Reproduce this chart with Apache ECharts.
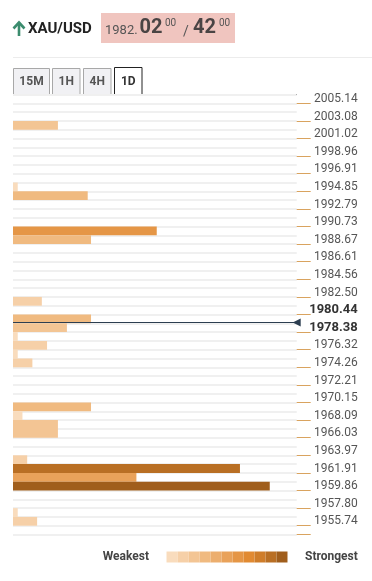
<!DOCTYPE html>
<html><head><meta charset="utf-8">
<script src="https://cdn.jsdelivr.net/npm/echarts@6/dist/echarts.min.js"></script>
<style>html,body{margin:0;padding:0;background:#fff;}#c{width:372px;height:581px;}</style>
</head><body><div id="c"></div>
<script>
// ---- data ----
const tickLabels = ['2005.14','2003.08','2001.02','1998.96','1996.91','1994.85','1992.79','1990.73','1988.67','1986.61','1984.56','1982.50','1980.44','1978.38','1976.32','1974.26','1972.21','1970.15','1968.09','1966.03','1963.97','1961.91','1959.86','1957.80','1955.74'];
const boldLabels = ['1980.44','1978.38'];
const rowCount = 50;
const barRows     = [3, 10, 11, 15, 16, 23, 25, 26, 27, 28, 29, 30, 35, 36, 37, 38, 41, 42, 43, 44, 47, 48];
const barValues   = [9.5, 1, 15.8, 30.4, 16.5, 6.1, 16.5, 11.4, 1, 7.2, 1, 4.1, 16.5, 2, 9.5, 9.5, 3, 48, 26.1, 54.3, 1, 5.1];
const barStrength = [3, 1, 4, 7, 4, 2, 4, 3, 1, 2, 1, 2, 4, 1, 3, 3, 2, 10, 6, 11, 1, 2];
const strengthColors = ['#f9dcbd','#f6d0a8','#f3c594','#f0ba80','#ecae6e','#e9a25a','#e59646','#e18a32','#cf7d2a','#b96f24','#a05e1c'];
const priceTop = 2005.655, priceBottom = 1954.195;
const priceLine = 1979.00;
const symbolName = 'XAU/USD';
const quote = {base:'1982.', bid:'02', bidSup:'00', ask:'42', askSup:'00'};
const tabs = ['15M','1H','4H','1D'];
const legendText = ['Strongest','Weakest'];

const rows = Array.from({length: rowCount}, (_, i) => String(i));
const barData = barRows.map((r, i) => [barValues[i], r, barStrength[i]]);

const chart = echarts.init(document.getElementById('c'), null, {renderer: 'canvas'});
const tabX = [[13.5,36],[52.5,27.5],[83.5,27.5],[114.5,27.5]];
const graphic = [
  {type:'polyline', shape:{points:[[19,36],[19,22.5]]}, style:{stroke:'#3c8c6e', lineWidth:2.6, fill:null}},
  {type:'polyline', shape:{points:[[13.5,28.5],[19,22.5],[24.5,28.5]]}, style:{stroke:'#3c8c6e', lineWidth:2.6, fill:null, lineJoin:'miter'}},
  {type:'text', style:{x:28, y:29, text:symbolName, font:'bold 15px Roboto', fill:'#222', verticalAlign:'middle'}},
  {type:'rect', shape:{x:101, y:13, width:134, height:30}, style:{fill:'#f0c5bf'}},
  {type:'text', style:{x:105, y:30.5, text:quote.base, font:'13px Roboto', fill:'#555', verticalAlign:'middle'}},
  {type:'text', style:{x:139.5, y:28, text:quote.bid, font:'bold 20px Roboto', fill:'#4a4444', verticalAlign:'middle'}},
  {type:'text', style:{x:165, y:23.5, text:quote.bidSup, font:'10px Roboto', fill:'#555', verticalAlign:'middle'}},
  {type:'text', style:{x:183, y:32, text:'/', font:'14px Roboto', fill:'#555', verticalAlign:'middle'}},
  {type:'text', style:{x:193, y:28, text:quote.ask, font:'bold 20px Roboto', fill:'#4a4444', verticalAlign:'middle'}},
  {type:'text', style:{x:219, y:23.5, text:quote.askSup, font:'10px Roboto', fill:'#555', verticalAlign:'middle'}},
  {type:'line', shape:{x1:13, y1:57.5, x2:372, y2:57.5}, style:{stroke:'#ececec', lineWidth:1}},
  {type:'line', shape:{x1:13, y1:94.5, x2:115, y2:94.5}, style:{stroke:'#333', lineWidth:1}},
  {type:'line', shape:{x1:141.5, y1:94.5, x2:297, y2:94.5}, style:{stroke:'#222', lineWidth:1}},
  {type:'text', style:{x:149, y:557, text:legendText[1], font:'bold 12px Roboto', fill:'#444', align:'right', verticalAlign:'middle'}},
  {type:'text', style:{x:305, y:557, text:legendText[0], font:'bold 12px Roboto', fill:'#444', align:'left', verticalAlign:'middle'}}
];
tabs.forEach((t, i) => {
  const [x, w] = tabX[i];
  const active = i === tabs.length - 1;
  if (active) {
    graphic.push({type:'polyline', shape:{points:[[x,94.5],[x,67.5],[x+w,67.5],[x+w,94.5]]}, style:{stroke:'#222', fill:null, lineWidth:1}});
  } else {
    graphic.push({type:'rect', shape:{x:x, y:68.5, width:w, height:26}, style:{fill:'#f1f1f4', stroke:'#a8a8a8', lineWidth:1}});
  }
  graphic.push({type:'text', style:{x:x + w/2, y:82, text:t, font:'bold 12px Roboto', fill: active ? '#333' : '#555', align:'center', verticalAlign:'middle'}});
});

chart.setOption({
  animation: false,
  backgroundColor: '#fff',
  grid: {left: 13, right: 75.3, top: 94.5, height: 440},
  xAxis: {type: 'value', min: 0, max: 60, show: false},
  yAxis: [
    {
      type: 'category', data: rows, inverse: true, position: 'right',
      axisLine: {show: false, onZero: false},
      axisTick: {show: true, length: 14, interval: (i) => i % 2 === 1, lineStyle: {color: '#d9a35f', width: 1}},
      axisLabel: {
        interval: (i) => i % 2 === 0, align: 'right', margin: 61,
        fontFamily: 'Roboto', fontSize: 12, color: '#555',
        formatter: (v, i) => {
          const idx = Number(v);
          if (idx % 2) return '';
          const lab = tickLabels[idx / 2];
          return boldLabels.includes(lab) ? '{b|' + lab + '}' : lab;
        },
        rich: {b: {fontFamily: 'Roboto', fontSize: 13, fontWeight: 'bold', color: '#333'}}
      },
      splitLine: {show: true, interval: 0, lineStyle: {color: '#f0f0f0', width: 2}}
    },
    {type: 'value', min: priceBottom, max: priceTop, show: false, axisLine: {onZero: false}}
  ],
  visualMap: {
    type: 'piecewise', seriesIndex: 0, dimension: 2, orient: 'horizontal',
    pieces: strengthColors.map((c, i) => ({value: i + 1, color: c})),
    itemWidth: 11, itemHeight: 11, itemGap: 0, itemSymbol: 'rect',
    showLabel: false, padding: 0,
    left: 166.5, top: 551.5, selectedMode: false, hoverLink: false
  },
  graphic: graphic,
  series: [
    {type: 'bar', data: barData, encode: {x: 0, y: 1}, barCategoryGap: '0%', z: 3},
    {type: 'line', yAxisIndex: 1, data: [], z: 2,
     markLine: {silent: true, symbol: ['none', 'triangle'], symbolSize: 8, symbolRotate: 90,
       label: {show: false}, lineStyle: {color: '#2c3e50', width: 1, type: 'solid'},
       emphasis: {disabled: true}, data: [{yAxis: priceLine}]}}
  ]
});
</script></body></html>
